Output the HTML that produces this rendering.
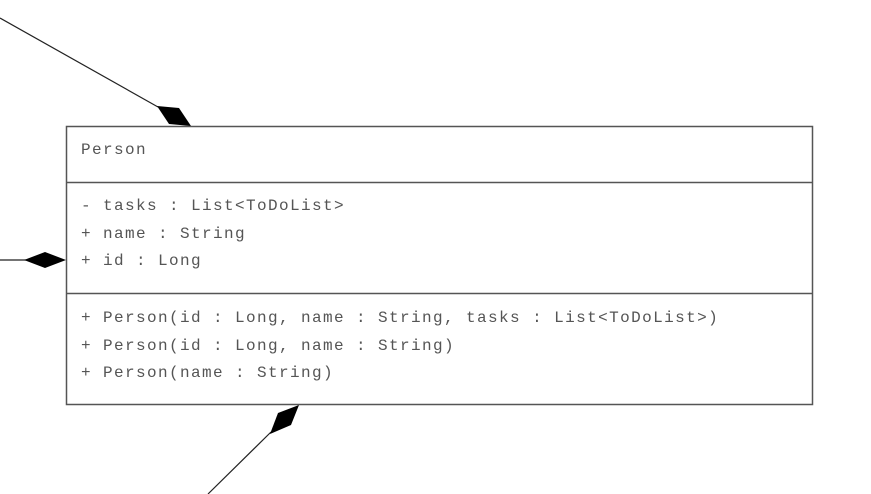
<!DOCTYPE html>
<html><head><meta charset="utf-8"><style>
html,body{margin:0;padding:0;background:#fff;}
svg{display:block;}
text{font-family:"Liberation Mono",monospace;font-size:16px;fill:#555;letter-spacing:1.4px;}
</style></head><body>
<svg width="871" height="494" viewBox="0 0 871 494" xmlns="http://www.w3.org/2000/svg">
<rect x="66.5" y="126.5" width="746" height="278" fill="#fff" stroke="#555" stroke-width="1.5"/>
<line x1="66" y1="182.5" x2="812" y2="182.5" stroke="#555" stroke-width="1.5"/>
<line x1="66" y1="293.5" x2="812" y2="293.5" stroke="#555" stroke-width="1.5"/>
<line x1="0" y1="18" x2="158" y2="107" stroke="#222" stroke-width="1.2"/>
<polygon points="191,126 179,108 157,106 169,124" fill="#000"/>
<line x1="0" y1="260" x2="26" y2="260" stroke="#222" stroke-width="1.2"/>
<polygon points="66,260 45,252 24,260 45,268" fill="#000"/>
<line x1="208" y1="494" x2="271" y2="432" stroke="#222" stroke-width="1.2"/>
<polygon points="299,405 278,413 270,434 291,425" fill="#000"/>
<text x="81" y="154">Person</text>
<text x="81" y="210">- tasks : List&lt;ToDoList&gt;</text>
<text x="81" y="238">+ name : String</text>
<text x="81" y="265">+ id : Long</text>
<text x="81" y="322">+ Person(id : Long, name : String, tasks : List&lt;ToDoList&gt;)</text>
<text x="81" y="350">+ Person(id : Long, name : String)</text>
<text x="81" y="377">+ Person(name : String)</text>
</svg>
</body></html>
